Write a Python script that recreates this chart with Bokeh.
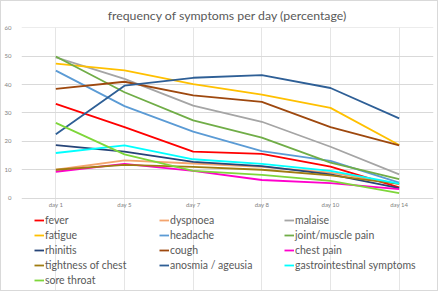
from bokeh.plotting import figure
from bokeh.models import Range1d, Legend, LegendItem, Title
from bokeh.core.properties import value
from bokeh.embed import file_html
from bokeh.resources import INLINE

days = ["day 1", "day 5", "day 7", "day 8", "day 10", "day 14"]

fever = [33.2, 25.0, 16.4, 15.6, 11.1, 3.8]
dyspnoea = [10.0, 13.3, 12.2, 11.0, 9.0, 5.0]
malaise = [49.6, 42.0, 32.6, 26.9, 18.1, 8.4]
fatigue = [47.4, 45.0, 40.2, 36.5, 31.8, 18.7]
headache = [44.9, 32.4, 23.4, 16.6, 13.1, 5.5]
joint_muscle = [49.9, 37.3, 27.4, 21.3, 12.5, 6.7]
rhinitis = [18.7, 16.4, 12.8, 11.3, 8.4, 3.5]
cough = [38.5, 41.0, 36.2, 33.9, 25.0, 18.6]
chest_pain = [9.3, 12.1, 9.6, 6.4, 5.3, 3.2]
tightness = [10.0, 11.7, 11.0, 10.0, 8.0, 5.0]
anosmia = [22.5, 39.6, 42.4, 43.3, 38.8, 28.1]
gastro = [15.9, 18.6, 13.7, 12.1, 9.6, 5.1]
sore_throat = [26.5, 15.4, 9.6, 8.2, 6.1, 1.8]

y_ticks = [0, 10, 20, 30, 40, 50, 60]

names = ["fever", "dyspnoea", "malaise", "fatigue", "headache", "joint/muscle pain",
         "rhinitis", "cough", "chest pain", "tightness of chest", "anosmia / ageusia",
         "gastrointestinal symptoms", "sore throat"]
series = [fever, dyspnoea, malaise, fatigue, headache, joint_muscle, rhinitis, cough,
          chest_pain, tightness, anosmia, gastro, sore_throat]
colors = ["#FF0000", "#F4A46E", "#A5A5A5", "#FFC000", "#5B9BD5", "#70AD47", "#264478",
          "#9E480E", "#FF00CC", "#A07C10", "#2E5F96", "#00FFFF", "#7ED63A"]

FONT = "Lato"
TXT = "#595959"

# frame spans down to the bottom so that the legend can sit under the 0 line
PX_PER_UNIT = 171.0 / 60.0
y_start = -(291 - 196.3) / PX_PER_UNIT
y_end = 60 + 0.3 / PX_PER_UNIT

p = figure(x_range=days, y_range=Range1d(y_start, y_end), width=438, height=291,
           output_backend="svg", toolbar_location=None, x_axis_location=None,
           min_border_left=13, min_border_right=6, min_border_top=25, min_border_bottom=0)
p.styles = {"border": "1px solid #D9D9D9"}

t = Title(text="frequency of symptoms per day (percentage)", align="center",
          text_font=FONT, text_font_size="12.3px", text_font_style="normal",
          text_color=TXT, standoff=9)
p.add_layout(t, "above")

renderers = []
for name, vals, c in zip(names, series, colors):
    r = p.line(days, vals, line_color=c, line_width=1.8)
    renderers.append(r)

# category labels under the 0 line
p.text(x=days, y=[0] * len(days), text=days, y_offset=6, text_align="center",
       text_baseline="middle", text_font=value(FONT), text_font_size="6px",
       text_color="#7F7F7F")

p.outline_line_color = None
p.ygrid.grid_line_color = "#D9D9D9"
p.ygrid.grid_line_width = 1
p.yaxis.ticker = y_ticks
ax = p.yaxis[0]
ax.axis_line_color = None
ax.major_tick_line_color = None
ax.minor_tick_line_color = None
ax.major_label_text_font = FONT
ax.major_label_text_font_size = "6px"
ax.major_label_text_color = "#7F7F7F"
ax.major_label_standoff = 4

# three legend columns, filled row by row like the reference
cols = [[0, 3, 6, 9, 12], [1, 4, 7, 10], [2, 5, 8, 11]]
locs = [(13, 5.6), (138, 21.2), (263, 21.2)]
for col, loc in zip(cols, locs):
    items = [LegendItem(label=names[i], renderers=[renderers[i]]) for i in col]
    lg = Legend(items=items, location=loc, orientation="vertical",
                glyph_width=10, glyph_height=12, label_height=12, label_standoff=1,
                spacing=3, padding=0, margin=0,
                label_text_font=FONT, label_text_font_size="10.5px", label_text_color=TXT,
                background_fill_alpha=0, border_line_alpha=0)
    p.add_layout(lg, "center")

open("out.html", "w").write(file_html(p, INLINE))
